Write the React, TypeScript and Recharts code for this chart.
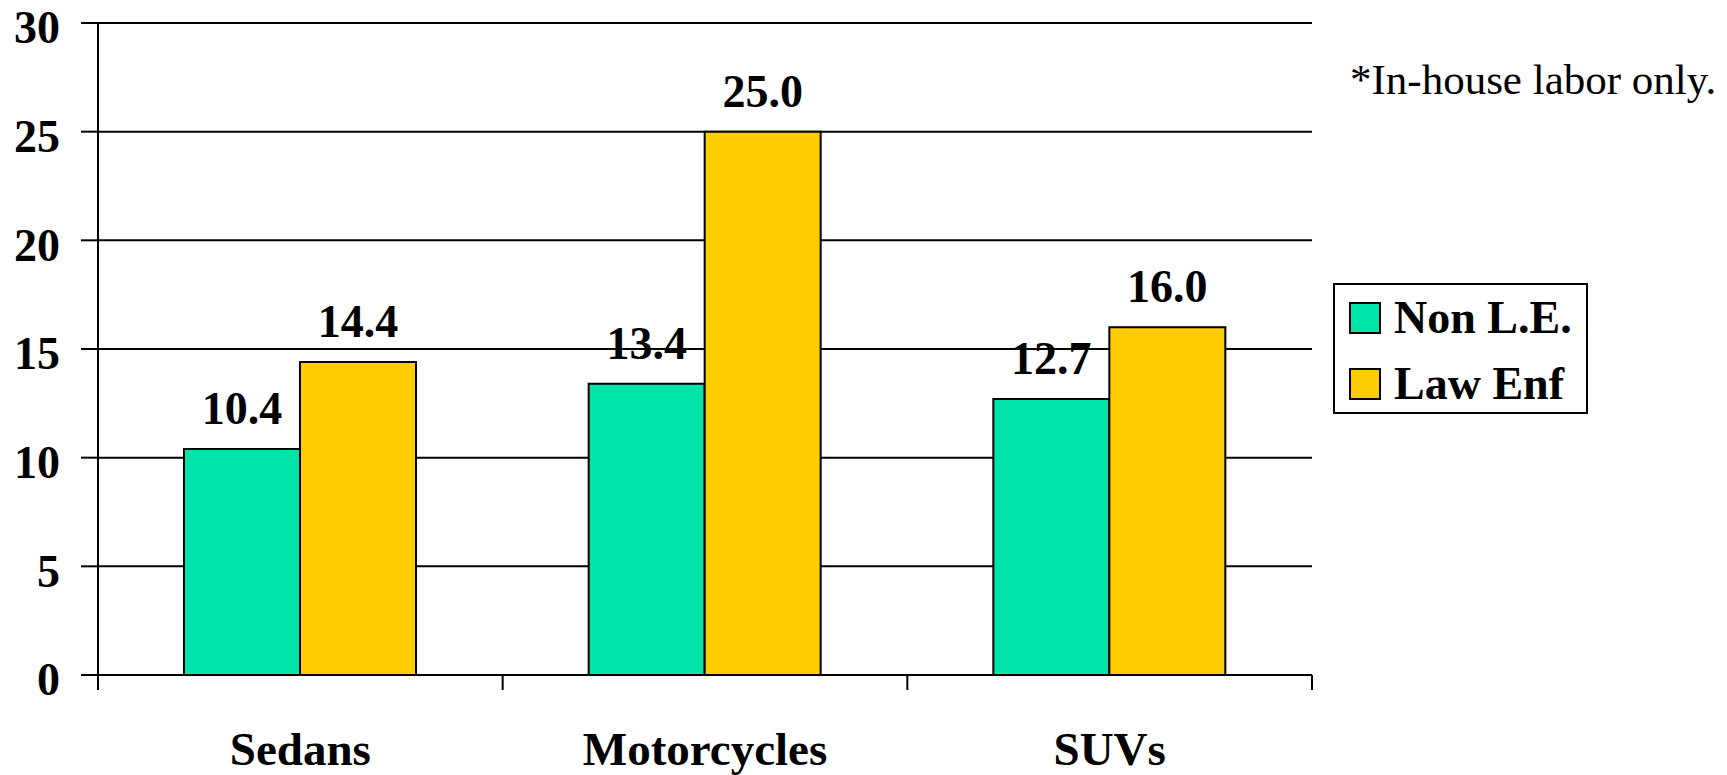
import { Bar, BarChart, CartesianGrid, LabelList, XAxis, YAxis } from "recharts";

const categories = ["Sedans", "Motorcycles", "SUVs"];
const nonLE = [10.4, 13.4, 12.7];
const lawEnf = [14.4, 25.0, 16.0];
const yTicks = [0, 5, 10, 15, 20, 25, 30];

const data = categories.map((name, i) => ({ name, nonLE: nonLE[i], lawEnf: lawEnf[i] }));

const font = "'Liberation Serif', 'Times New Roman', serif";
const green = "#00E4AA";
const yellow = "#FFCC00";

function CategoryTick(props: any) {
  const { x, y, payload, index, width, visibleTicksCount } = props;
  const half = width / (visibleTicksCount || categories.length) / 2;
  return (
    <g>
      <line x1={x - half} y1={y} x2={x - half} y2={y + 15} stroke="#000" strokeWidth={2} />
      {index === categories.length - 1 && (
        <line x1={x + half} y1={y} x2={x + half} y2={y + 15} stroke="#000" strokeWidth={2} />
      )}
      <text x={x} y={y + 90} textAnchor="middle" fontFamily={font} fontWeight="bold" fontSize={47} fill="#000">
        {payload.value}
      </text>
    </g>
  );
}

const legendItems = [
  { label: "Non L.E.", color: green },
  { label: "Law Enf", color: yellow },
];

export default function App() {
  return (
    <div style={{ position: "absolute", left: 0, top: 0, width: 1727, height: 775, background: "#fff" }}>
      <BarChart
        width={1727}
        height={775}
        data={data}
        margin={{ top: 23, right: 415, bottom: 0, left: 0 }}
        barGap={0}
        barSize={116}
      >
        <CartesianGrid vertical={false} stroke="#000" strokeWidth={2} />
        <XAxis
          dataKey="name"
          height={100}
          axisLine={{ stroke: "#000", strokeWidth: 2 }}
          tickLine={false}
          tickSize={0}
          tickMargin={0}
          tick={<CategoryTick />}
          interval={0}
        />
        <YAxis
          width={98}
          domain={[0, 30]}
          ticks={yTicks}
          interval={0}
          axisLine={{ stroke: "#000", strokeWidth: 2 }}
          tickLine={{ stroke: "#000", strokeWidth: 2 }}
          tickSize={17}
          tickMargin={21}
          tick={{ fontFamily: font, fontWeight: "bold", fontSize: 46, fill: "#000", dy: 4 }}
        />
        <YAxis
          yAxisId="right"
          orientation="right"
          width={0}
          domain={[0, 30]}
          tick={false}
          tickLine={false}
          axisLine={{ stroke: "#000", strokeWidth: 2 }}
        />
        <Bar dataKey="nonLE" name="Non L.E." fill={green} stroke="#000" strokeWidth={2} isAnimationActive={false}>
          <LabelList
            dataKey="nonLE"
            position="top"
            offset={25}
            formatter={(v: any) => Number(v).toFixed(1)}
            style={{ fontFamily: font, fontWeight: "bold", fontSize: 46, fill: "#000" }}
          />
        </Bar>
        <Bar dataKey="lawEnf" name="Law Enf" fill={yellow} stroke="#000" strokeWidth={2} isAnimationActive={false}>
          <LabelList
            dataKey="lawEnf"
            position="top"
            offset={25}
            formatter={(v: any) => Number(v).toFixed(1)}
            style={{ fontFamily: font, fontWeight: "bold", fontSize: 46, fill: "#000" }}
          />
        </Bar>
      </BarChart>
      <div
        style={{
          position: "absolute",
          left: 1333,
          top: 283,
          width: 251,
          height: 127,
          border: "2px solid #000",
          background: "#fff",
        }}
      >
        {legendItems.map((it) => (
          <div key={it.label} style={{ display: "flex", alignItems: "center", height: 66 }}>
            <div style={{ width: 28, height: 28, background: it.color, border: "2px solid #000", marginLeft: 14 }} />
            <span style={{ fontFamily: font, fontWeight: "bold", fontSize: 46, marginLeft: 13, lineHeight: 1 }}>
              {it.label}
            </span>
          </div>
        ))}
      </div>
      <div
        style={{
          position: "absolute",
          left: 1350,
          top: 58,
          fontFamily: font,
          fontSize: 43,
          lineHeight: 1,
          whiteSpace: "nowrap",
        }}
      >
        *In-house labor only.
      </div>
    </div>
  );
}
